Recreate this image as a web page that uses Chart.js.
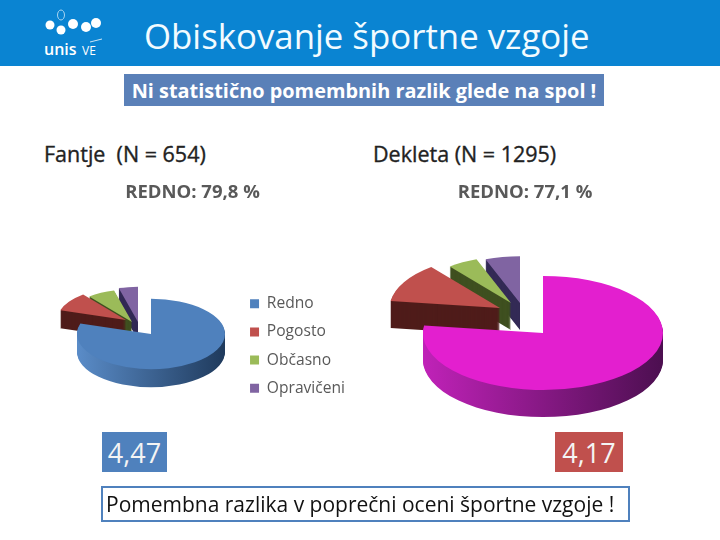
<!DOCTYPE html>
<html>
<head>
<meta charset="utf-8">
<script src="https://cdn.jsdelivr.net/npm/chart.js@4/dist/chart.umd.min.js"></script>
<style>
  html, body { margin: 0; background: #fff; }
  #page { position: relative; width: 720px; height: 540px; overflow: hidden; font-family: "Open Sans", sans-serif; }
  #page div, #page canvas, #page svg { position: absolute; }
  .label { white-space: pre; line-height: 1; }
  #band { left: 0; top: 0; width: 720px; height: 66px; background: #0a84d2; }
  #title { left: 144px; top: 19px; font-size: 34.8px; color: #f2fbff; }
  #note { left: 124px; top: 74px; width: 480px; height: 32px; background: #5a80b8; color: #fff; font-weight: 700; font-size: 19.9px; line-height: 33px; text-align: center; }
  #boys { left: 44px; top: 143px; font-size: 21.5px; color: #222; -webkit-text-stroke: 0.35px #222; }
  #girls { left: 373px; top: 143px; font-size: 21.5px; color: #222; -webkit-text-stroke: 0.35px #222; }
  .grade { top: 432px; height: 40px; line-height: 41px; color: #f4f4f4; font-size: 27px; text-align: center; }
  #gradeBoys { left: 102px; width: 65px; background: #4f81bd; }
  #gradeGirls { left: 555px; width: 68px; background: #c0504d; }
  #footer { left: 101px; top: 486px; width: 522px; height: 32px; padding-left: 3px; border: 2px solid #4f81bd; color: #111; font-size: 21px; line-height: 33px; }
</style>
</head>
<body>
<div id="page">
  <div id="band"></div>
  <svg style="left:40px;top:6px" width="70" height="56" fill="#fff">
    <ellipse cx="21" cy="9" rx="3.5" ry="5" fill="none" stroke="#cfe8f8" stroke-width="0.8"/>
    <circle cx="10" cy="19" r="4.5"/><circle cx="21" cy="24" r="4.5"/><circle cx="33" cy="18" r="5"/><circle cx="46" cy="21" r="5"/><circle cx="56" cy="17" r="5"/>
    <text x="4" y="49" font-family="Open Sans" font-weight="600" font-size="16">unis</text>
    <text x="42" y="49" font-family="Open Sans" font-size="12">VE</text>
    <path d="M50 36 L62 33" stroke="#fff" stroke-width="0.8"/>
  </svg>
  <div id="title" class="label">Obiskovanje športne vzgoje</div>
  <div id="note" class="label">Ni statistično pomembnih razlik glede na spol !</div>
  <div id="boys" class="label">Fantje  (N = 654)</div>
  <div id="girls" class="label">Dekleta (N = 1295)</div>
  <canvas id="pieBoys" style="left:30px;top:170px" width="330" height="352"></canvas>
  <canvas id="pieGirls" style="left:370px;top:170px" width="310" height="250"></canvas>
  <div id="gradeBoys" class="label grade">4,47</div>
  <div id="gradeGirls" class="label grade">4,17</div>
  <div id="footer" class="label">Pomembna razlika v poprečni oceni športne vzgoje !</div>
</div>
<script>
const categories = ['Redno', 'Pogosto', 'Občasno', 'Opravičeni']
const boysValues = [79.8, 9.5, 6.5, 4.2]
const girlsValues = [77.1, 12.2, 5, 5.7]
const boysHeading = 'REDNO: 79,8 %'
const girlsHeading = 'REDNO: 77,1 %'

const sliceColors = ['#4f81bd', '#c0504d', '#9bbb59', '#8064a2']
const girlsColors = ['#e31fcf', '#c0504d', '#9bbb59', '#8064a2']
const edgeColors = ['', '#4f1c1a', '#3f5020', '#332a55']

// top surface is squashed and the edge swept down, the arcs come from the pie controller
const pie3d = {
  id: 'pie3d',
  beforeDatasetDraw(chart, args, opts) {
    const ctx = chart.ctx
    const arcs = chart.getDatasetMeta(0).data
    for (let i = arcs.length - 1; i >= 0; i--) {
      const arc = arcs[i]
      const place = depth => {
        ctx.translate(opts.cx + opts.shift[i][0], opts.cy + opts.shift[i][1] + depth)
        ctx.scale(opts.shrink[i], opts.shrink[i] * opts.squash)
        ctx.translate(-arc.x, -arc.y)
      }
      ctx.save()
      place(0)
      const side = ctx.createLinearGradient(arc.x - arc.outerRadius, 0, arc.x + arc.outerRadius, 0)
      side.addColorStop(0, opts.side[0])
      side.addColorStop(1, opts.side[1])
      ctx.restore()
      for (let d = opts.depth; d > 0; d--) {
        ctx.save()
        place(d)
        ctx.beginPath()
        ctx.moveTo(arc.x, arc.y)
        ctx.arc(arc.x, arc.y, arc.outerRadius, arc.startAngle, arc.endAngle)
        ctx.closePath()
        ctx.fillStyle = i === 0 ? side : edgeColors[i]
        ctx.fill()
        ctx.restore()
      }
      ctx.save()
      place(0)
      arc.draw(ctx)
      ctx.restore()
    }
    return false
  },
}

function drawPie(id, values, colors, heading, radius, legend, padding, shape) {
  return new Chart(document.querySelector(id), {
    type: 'pie',
    data: { labels: categories, datasets: [{ data: values, backgroundColor: colors, borderWidth: 0, radius }] },
    options: {
      responsive: false,
      animation: false,
      layout: { padding },
      plugins: {
        tooltip: { enabled: false },
        title: { display: true, text: heading, color: '#595959', font: { family: 'Open Sans', size: 18.5, weight: 'bold' }, padding: { top: 12, bottom: 4 } },
        legend,
        pie3d: shape,
      },
    },
    plugins: [pie3d],
  })
}

drawPie('#pieBoys', boysValues, sliceColors, boysHeading, 74, {
  position: 'right',
  labels: { boxWidth: 9, boxHeight: 9, padding: 12.5, color: '#595959', font: { family: 'Open Sans', size: 15.6 } },
}, { right: 5 }, {
  cx: 121, cy: 165, squash: 0.475, depth: 18,
  shift: [[0, -1], [-25, -15], [-19, -13], [-13, -13]],
  shrink: [1, 0.93, 0.93, 1],
  side: ['#5a8cc8', '#1f3a5c'],
})

drawPie('#pieGirls', girlsValues, girlsColors, girlsHeading, 120, { display: false }, 0, {
  cx: 173, cy: 163, squash: 0.475, depth: 27,
  shift: [[0, 0], [-43, -25], [-32, -30], [-23, -30]],
  shrink: [1, 0.92, 0.82, 0.82],
  side: ['#c022b8', '#4c0f50'],
})
</script>
</body>
</html>
